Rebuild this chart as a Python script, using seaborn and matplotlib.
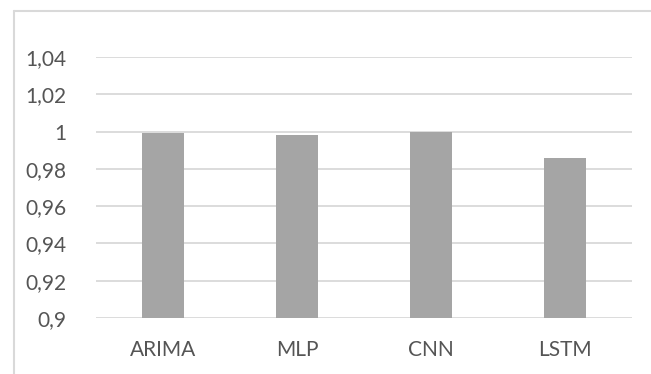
import matplotlib
matplotlib.use("Agg")
import matplotlib.pyplot as plt
from matplotlib.lines import Line2D
from matplotlib.ticker import FuncFormatter
import seaborn as sns
import pandas as pd

# Model accuracy scores
models = ["ARIMA", "MLP", "CNN", "LSTM"]
scores = [0.999, 0.998, 1.0, 0.986]
y_ticks = [0.9, 0.92, 0.94, 0.96, 0.98, 1.0, 1.02, 1.04]

df = pd.DataFrame({"model": models, "score": scores})

sns.set_theme(style="white")
plt.rcParams["font.family"] = ["Lato", "DejaVu Sans"]

W, H = 651, 374
fig = plt.figure(figsize=(W / 100, H / 100), dpi=100)
ax = fig.add_axes([96 / W, 1 - 318 / H, (632 - 96) / W, (318 - 57) / H])

sns.barplot(data=df, x="model", y="score", color="#A5A5A5", saturation=1,
            width=0.32, ax=ax, zorder=3, linewidth=0)

ax.set_ylim(0.9, 1.04)
ax.set_xlim(-0.5, 3.5)
ax.set_yticks(y_ticks)


def comma_fmt(v, _):
    s = f"{v:.2f}".rstrip("0").rstrip(".")
    return s.replace(".", ",")


ax.yaxis.set_major_formatter(FuncFormatter(comma_fmt))
ax.grid(axis="y", color="#D9D9D9", linewidth=1.3, zorder=0)
ax.grid(axis="x", visible=False)
for sp in ax.spines.values():
    sp.set_visible(False)
ax.set_xlabel("")
ax.set_ylabel("")
ax.tick_params(axis="y", length=0, pad=21, labelsize=15, labelcolor="#555555")
ax.tick_params(axis="x", length=0, pad=16, labelsize=15, labelcolor="#555555")

# Chart frame (top and left edges)
frame = dict(color="#D9D9D9", linewidth=1.5, transform=fig.transFigure)
fig.add_artist(Line2D([14 / W, 1], [1 - 11 / H, 1 - 11 / H], **frame))
fig.add_artist(Line2D([14 / W, 14 / W], [0, 1 - 11 / H], **frame))

fig.savefig("out.png", dpi=100, facecolor="white")
